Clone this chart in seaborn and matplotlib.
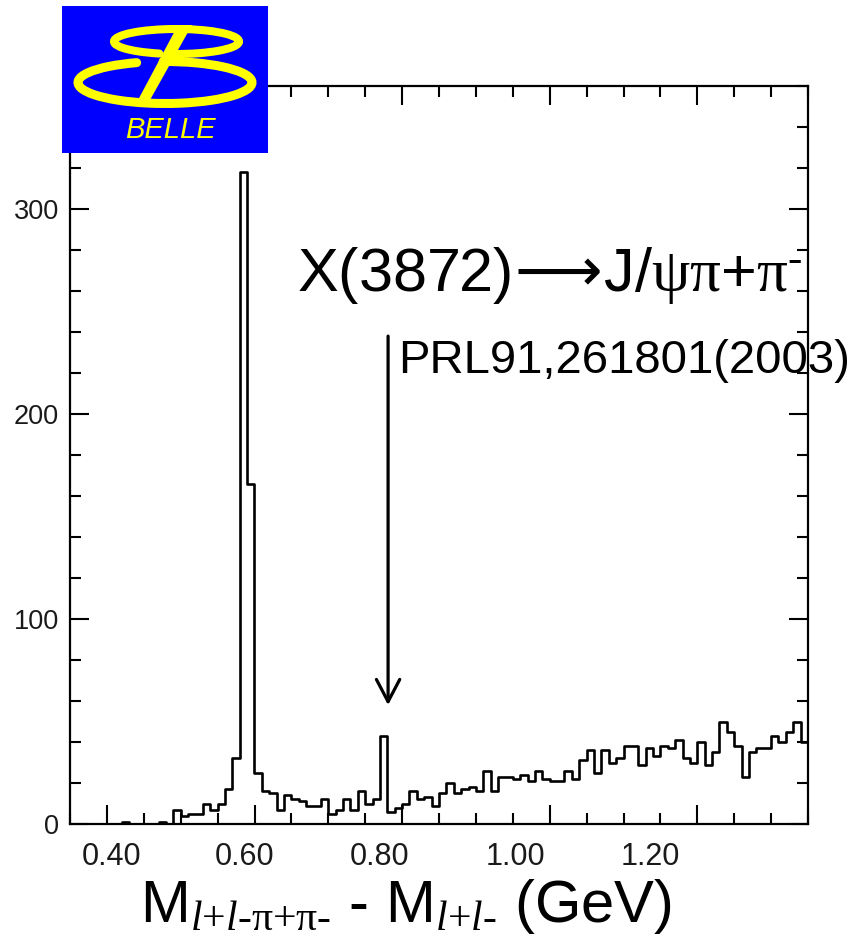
import numpy as np
import pandas as pd
import matplotlib
matplotlib.use("Agg")
import matplotlib.pyplot as plt
import seaborn as sns
from matplotlib.patches import Arc, Polygon, Rectangle
from matplotlib.ticker import MultipleLocator

# ---------------- data ----------------
mass_min = 0.35          # GeV, first bin edge
mass_max = 1.35          # GeV, last bin edge
bin_width = 0.01
counts = [0, 0, 0, 0, 0, 0, 0, 1, 0, 0,
          0, 0, 1, 0, 7, 4, 5, 5, 10, 7,
          10, 17, 32, 318, 166, 25, 16, 15, 7, 14,
          12, 11, 9, 9, 12, 5, 7, 12, 7, 16,
          10, 12, 43, 6, 8, 10, 16, 12, 13, 9,
          15, 20, 15, 17, 18, 16, 26, 16, 23, 23,
          22, 24, 21, 26, 22, 21, 21, 26, 22, 31,
          36, 25, 36, 30, 32, 38, 38, 29, 37, 33,
          38, 37, 41, 32, 30, 40, 29, 35, 50, 45,
          38, 23, 35, 37, 37, 43, 40, 45, 50, 40]
x_tick_labels = ["0.40", "0.60", "0.80", "1.00", "1.20"]
y_ticks = [0, 100, 200, 300]
y_tick_labels = ["0", "100", "200", "300"]
title_text = ("X(3872)" + r"$\!\mathsf{\longrightarrow}\!$" + "J/" + r"$\mathrm{\psi\pi}$"
              + "+" + r"$\mathrm{\pi}^{\text{-}}$")
ref_text = "PRL91,261801(2003)"
xlabel_text = (r"$\mathregular{M}_{\mathit{l}\text{+}\mathit{l}\text{-}\mathrm{\pi}\text{+}\mathrm{\pi}\text{-}}$"
               + " - " + r"$\mathregular{M}_{\mathit{l}\text{+}\mathit{l}\text{-}}$" + " (GeV)")
signal_mass = 0.781      # X(3872) position marked by the arrow

# ---------------- style ----------------
sns.set_style("ticks")
plt.rcParams["font.family"] = ["Liberation Sans", "DejaVu Sans"]
plt.rcParams.update({
    "mathtext.fontset": "custom",
    "mathtext.rm": "Liberation Serif",
    "mathtext.it": "Liberation Serif:italic",
    "mathtext.bf": "Liberation Serif:bold",
    "mathtext.sf": "DejaVu Sans",
})

W, H = 852, 936
fig = plt.figure(figsize=(W / 100, H / 100), dpi=100)
fig.patch.set_facecolor("white")
ax = fig.add_axes([70 / W, 112 / H, 738 / W, 738 / H])

n_bins = len(counts)
centers = [mass_min + bin_width * (i + 0.5) for i in range(n_bins)]
df = pd.DataFrame({"mass": centers, "n": counts})
sns.histplot(data=df, x="mass", weights="n", binwidth=bin_width,
             binrange=(mass_min, mass_max), element="step",
             fill=False, color="black", linewidth=1.9, ax=ax)

ax.set_xlim(mass_min, mass_max)
ax.set_ylim(0, 360)
ax.set_xlabel("")
ax.set_ylabel("")
ax.set_facecolor("white")

for s in ax.spines.values():
    s.set_visible(True)
    s.set_linewidth(1.6)
    s.set_color("black")

ax.xaxis.set_major_locator(MultipleLocator(0.2))
ax.xaxis.set_minor_locator(MultipleLocator(0.05))
ax.set_yticks(y_ticks)
ax.set_yticklabels(y_tick_labels)
ax.yaxis.set_minor_locator(MultipleLocator(20))
ax.tick_params(which="both", direction="in", top=True, right=True,
               width=1.5, color="black")
ax.tick_params(which="major", length=14)
ax.tick_params(which="minor", length=8)
ax.tick_params(axis="y", labelsize=19.5, pad=8, labelcolor="#1a1a1a")
ax.tick_params(axis="x", labelbottom=False)

# x tick labels (placed as in the original figure, slightly offset from ticks)
label_px = [112, 245, 380, 515, 650]
for px, lab in zip(label_px, x_tick_labels):
    xd = mass_min + (px - 70) / 738 * (mass_max - mass_min)
    ax.text(xd, -33 / 738, lab, transform=ax.get_xaxis_transform(),
            ha="center", va="center", fontsize=22, color="#1a1a1a")

# arrow marking X(3872)
ax.annotate("", xy=(signal_mass, 58), xytext=(signal_mass, 238),
            arrowprops=dict(arrowstyle="->,head_length=0.8,head_width=0.42",
                            mutation_scale=20, lw=2.3, color="black",
                            shrinkA=0, shrinkB=0))

# texts
fig.text(297 / W, 1 - 291 / H, title_text, fontsize=44, ha="left",
         va="baseline", color="black")
fig.text(398 / W, 1 - 373 / H, ref_text, fontsize=34, ha="left",
         va="baseline", color="black")
fig.text(140 / W, 1 - 922 / H, xlabel_text, fontsize=43, ha="left",
         va="baseline", color="black")

# ---------------- BELLE logo ----------------
lax = fig.add_axes([62 / W, 1 - 153 / H, 206 / W, 147 / H])
lax.set_xlim(0, 206)
lax.set_ylim(0, 147)
lax.axis("off")
yel = "#ffff00"
lax.add_patch(Rectangle((0, 0), 206, 147, facecolor="#0000ff", edgecolor="none"))
lax.add_patch(Arc((114.5, 111.5), 125, 25, theta1=-97, theta2=215,
                  lw=5.8, color=yel, capstyle="round"))
lax.add_patch(Arc((103, 70.5), 174, 42, theta1=-215, theta2=95,
                  lw=6.5, color=yel, capstyle="round"))
lax.add_patch(Polygon([(116, 128), (130, 128), (88, 53), (76, 53)],
                      closed=True, facecolor=yel, edgecolor="none"))
lax.text(108, 23, "BELLE", color=yel, fontsize=21, style="italic",
         ha="center", va="center")

fig.savefig("out.png", dpi=100)
